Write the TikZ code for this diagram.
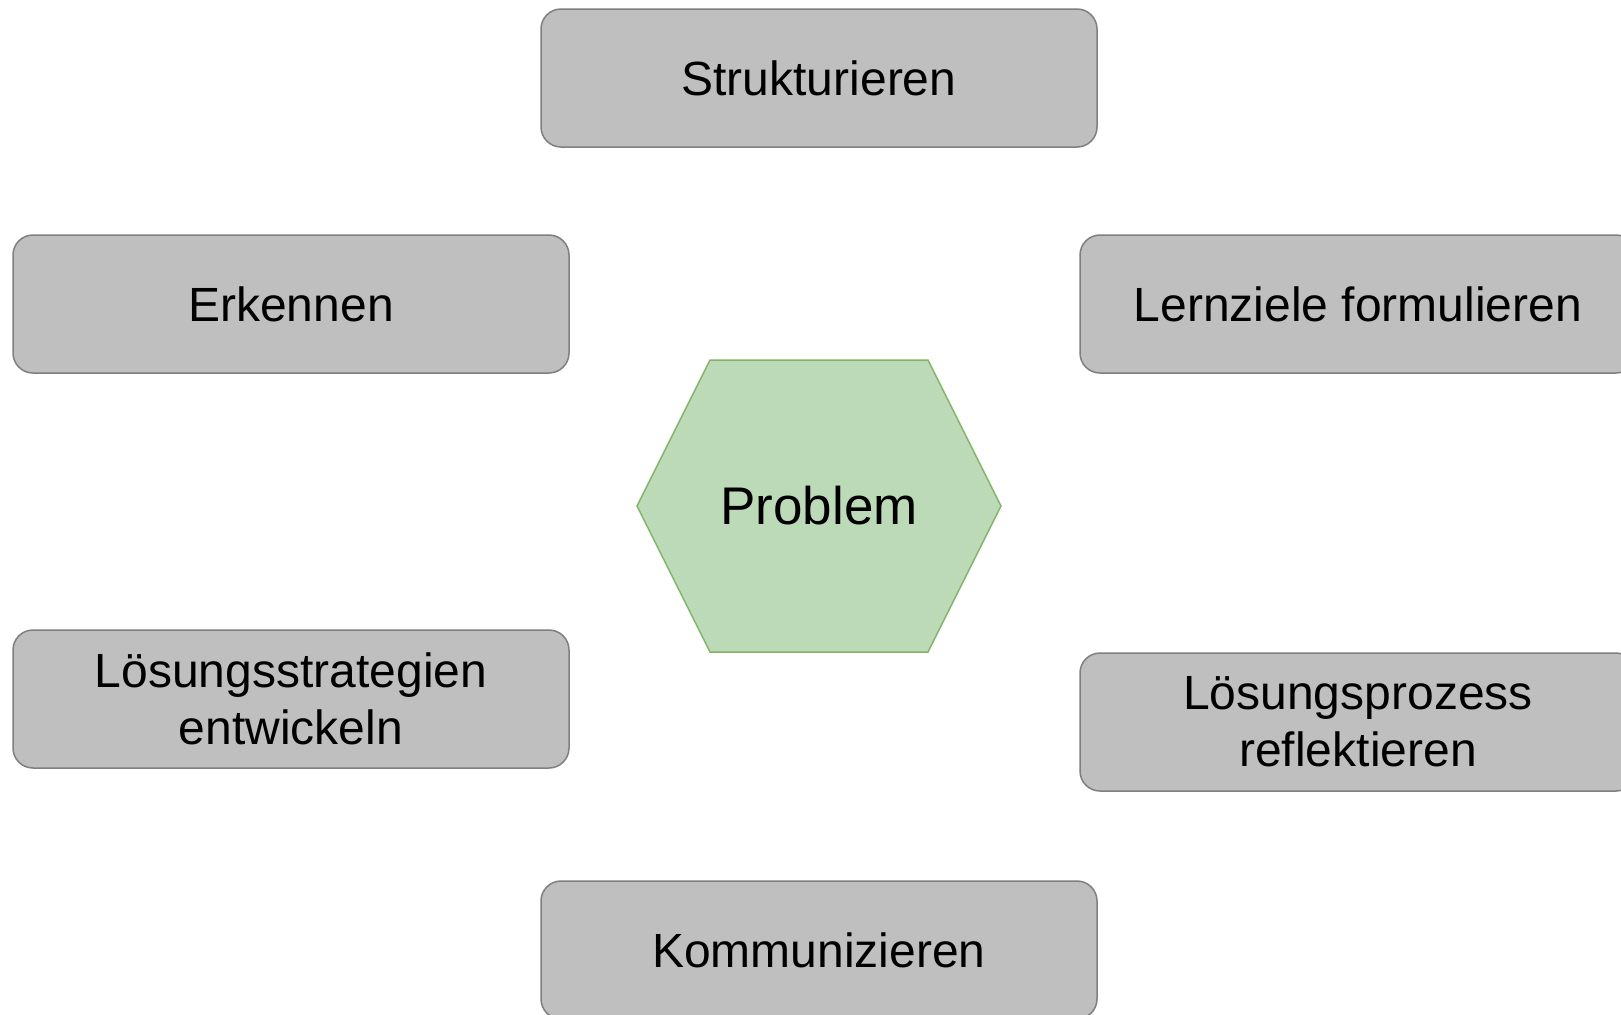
\documentclass[tikz,border=0pt]{standalone}
\usepackage{fontspec}
\setmainfont{Liberation Sans}
\usetikzlibrary{positioning,shapes}

\definecolor{boxgray}{RGB}{191,191,191}
\definecolor{boxline}{RGB}{127,127,127}
\definecolor{hexfill}{RGB}{188,218,184}
\definecolor{hexline}{RGB}{130,179,102}

\tikzset{
	stufe/.style={rectangle,rounded corners=10pt,draw=boxline,fill=boxgray,line width=0.75pt,
		minimum width=278pt,minimum height=69pt,align=center,
		font=\fontsize{24}{28.5}\selectfont}
}

\begin{document}
\begin{tikzpicture}[x=0.5pt,y=-0.5pt]
		\useasboundingbox (0,0) rectangle (1621,1014);
		% Sechseck in der Mitte
		\draw[draw=hexline,fill=hexfill,line width=0.75pt]
			(637,506) -- (710,360) -- (928,360) -- (1001,506) -- (928,652) -- (710,652) -- cycle;
		\node (problem) at (819,506) {\fontsize{26.5}{32}\selectfont Problem};
		% Schritte
		\node[stufe] (strukturieren) at (819,78) {Strukturieren};
		\node[stufe] (erkennen) at (291,304) {Erkennen};
		\node[stufe] (lernziele) at (1358,304) {Lernziele formulieren};
		\node[stufe] (strategien) at (291,699) {Lösungsstrategien\\entwickeln};
		\node[stufe] (reflexion) at (1358,722) {Lösungsprozess\\reflektieren};
		\node[stufe] (kommunizieren) at (819,950) {Kommunizieren};
	\end{tikzpicture}
\end{document}
